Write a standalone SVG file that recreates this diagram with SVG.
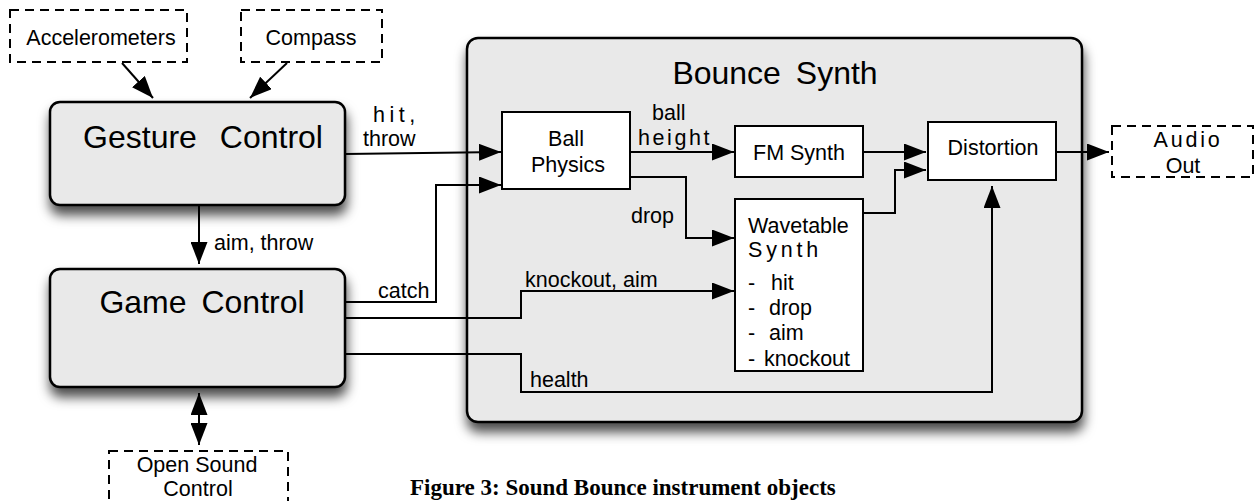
<svg xmlns="http://www.w3.org/2000/svg" width="1254" height="501" viewBox="0 0 1254 501">
<style>
.lbl{font-family:"Liberation Sans",Arial,sans-serif;font-size:21.5px;fill:#000}
.ttl{font-family:"Liberation Sans",Arial,sans-serif;font-size:32px;fill:#000}
.big{fill:#e9e9e9;stroke:#000;stroke-width:2.5}
.box{fill:#fff;stroke:#000;stroke-width:2}
.dash{fill:#fff;stroke:#000;stroke-width:2;stroke-dasharray:9,6}
.con{fill:none;stroke:#000;stroke-width:2}
.cap{font-family:"Liberation Serif","Times New Roman",serif;font-size:23px;font-weight:bold;fill:#000}
</style>
<defs>
<marker id="ah" markerUnits="userSpaceOnUse" markerWidth="22" markerHeight="17" refX="22" refY="8.5" orient="auto-start-reverse" viewBox="0 0 22 17">
<path d="M0,0 L22,8.5 L0,17 z" fill="#000"/>
</marker>
<filter id="sh" x="-10%" y="-10%" width="125%" height="140%">
<feDropShadow dx="1" dy="9" stdDeviation="6" flood-color="#000" flood-opacity="0.7"/>
</filter>
</defs>
<rect width="1254" height="501" fill="#fff"/>

<g id="bounce-synth">
<rect class="big" x="467" y="38" width="615" height="384" rx="11" filter="url(#sh)"/>
<text class="ttl" x="775" y="84" text-anchor="middle" word-spacing="6">Bounce Synth</text>
</g>

<g id="accelerometers">
<rect class="dash" x="10" y="10" width="177" height="52"/>
<text class="lbl" x="101" y="45" text-anchor="middle">Accelerometers</text>
</g>
<g id="compass">
<rect class="dash" x="241" y="10" width="141" height="52"/>
<text class="lbl" x="311" y="45" text-anchor="middle">Compass</text>
</g>
<g id="gesture-control">
<rect class="big" x="50" y="102" width="295" height="103" rx="10" filter="url(#sh)"/>
<text class="ttl" x="203" y="148" text-anchor="middle" word-spacing="14">Gesture Control</text>
</g>
<g id="game-control">
<rect class="big" x="50" y="269" width="295" height="118" rx="10" filter="url(#sh)"/>
<text class="ttl" x="202" y="313" text-anchor="middle" word-spacing="6">Game Control</text>
</g>
<g id="open-sound-control">
<rect class="dash" x="109" y="451" width="179" height="70"/>
<text class="lbl" x="197" y="472" text-anchor="middle">Open Sound</text>
<text class="lbl" x="198" y="496" text-anchor="middle">Control</text>
</g>
<g id="ball-physics">
<rect class="box" x="502" y="112" width="128" height="77"/>
<text class="lbl" x="566" y="146" text-anchor="middle">Ball</text>
<text class="lbl" x="568" y="172" text-anchor="middle">Physics</text>
</g>
<g id="fm-synth">
<rect class="box" x="735" y="126" width="128" height="51"/>
<text class="lbl" x="799" y="160" text-anchor="middle">FM Synth</text>
</g>
<g id="wavetable-synth">
<rect class="box" x="735" y="199" width="128" height="172"/>
<text class="lbl" x="748" y="233">Wavetable</text>
<text class="lbl" x="748" y="257" letter-spacing="3.8">Synth</text>
<text class="lbl" y="290"><tspan x="748">-</tspan><tspan x="771">hit</tspan></text>
<text class="lbl" y="315"><tspan x="748">-</tspan><tspan x="769">drop</tspan></text>
<text class="lbl" y="340"><tspan x="748">-</tspan><tspan x="769">aim</tspan></text>
<text class="lbl" y="366"><tspan x="748">-</tspan><tspan x="764">knockout</tspan></text>
</g>
<g id="distortion">
<rect class="box" x="928" y="122" width="128" height="58"/>
<text class="lbl" x="993" y="155" text-anchor="middle">Distortion</text>
</g>
<g id="audio-out">
<rect class="dash" x="1112" y="126" width="141" height="51"/>
<text class="lbl" x="1188" y="147" text-anchor="middle" letter-spacing="2.8">Audio</text>
<text class="lbl" x="1183" y="173" text-anchor="middle">Out</text>
</g>

<g id="connectors">
<path class="con" d="M122,63 L153,98" marker-end="url(#ah)"/>
<path class="con" d="M287,63 L250,98" marker-end="url(#ah)"/>
<path class="con" d="M345,154 L501,152" marker-end="url(#ah)"/>
<path class="con" d="M345,302 H436 V185 H501" marker-end="url(#ah)"/>
<path class="con" d="M199,205 V264" marker-end="url(#ah)"/>
<path class="con" d="M199,393 V445" marker-start="url(#ah)" marker-end="url(#ah)"/>
<path class="con" d="M630,152 H734" marker-end="url(#ah)"/>
<path class="con" d="M630,177 H686 V238 H734" marker-end="url(#ah)"/>
<path class="con" d="M345,318 H521 V291 H734" marker-end="url(#ah)"/>
<path class="con" d="M345,354 H521 V392 H992 V186" marker-end="url(#ah)"/>
<path class="con" d="M863,152 H926" marker-end="url(#ah)"/>
<path class="con" d="M863,213 H895 V170 H926" marker-end="url(#ah)"/>
<path class="con" d="M1056,152 H1109" marker-end="url(#ah)"/>
<text class="lbl" x="373" y="122" letter-spacing="4.5">hit,</text>
<text class="lbl" x="363" y="146">throw</text>
<text class="lbl" x="214" y="250">aim, throw</text>
<text class="lbl" x="378" y="298">catch</text>
<text class="lbl" x="652" y="120">ball</text>
<text class="lbl" x="638" y="145" letter-spacing="2.6">height</text>
<text class="lbl" x="631" y="223">drop</text>
<text class="lbl" x="525" y="287">knockout, aim</text>
<text class="lbl" x="530" y="387">health</text>
</g>

<text class="cap" x="410" y="495">Figure 3: Sound Bounce instrument objects</text>
</svg>
